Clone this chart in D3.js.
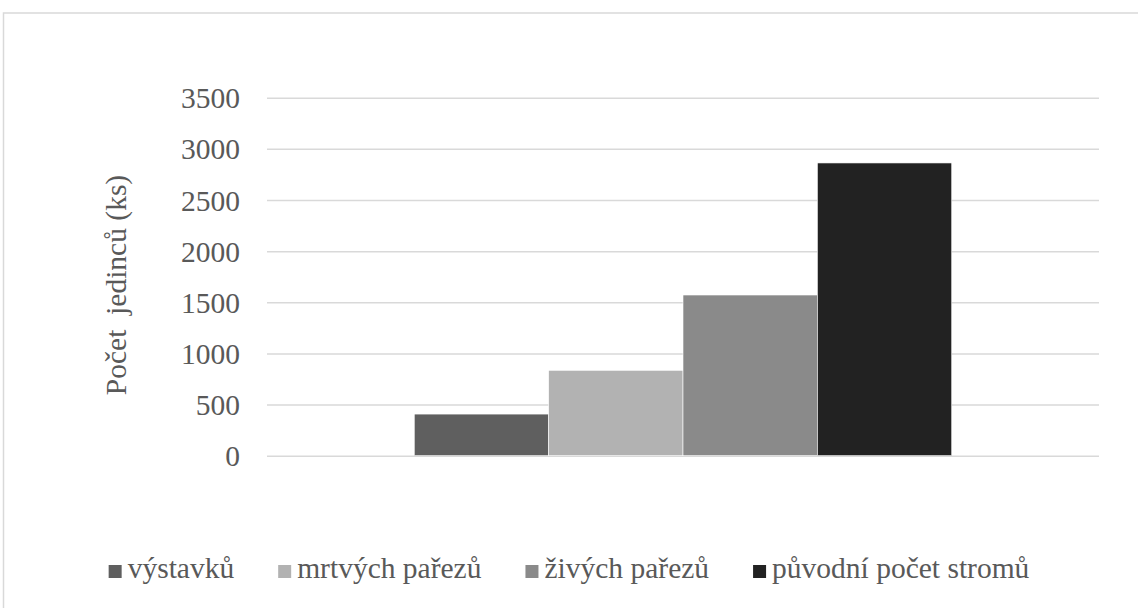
<!DOCTYPE html>
<html>
<head>
<meta charset="utf-8">
<script src="https://cdn.jsdelivr.net/npm/d3@7"></script>
</head>
<body style="margin:0">
<script>
// chart data
const categories = [''];
const seriesNames = ['výstavků', 'mrtvých pařezů', 'živých pařezů', 'původní počet stromů'];
const seriesValues = [407, 835, 1571, 2862];
const seriesColors = ['#5f5f5f', '#b2b2b2', '#8a8a8a', '#222222'];
const yTicks = [0, 500, 1000, 1500, 2000, 2500, 3000, 3500];
const yTitle = 'Počet  jedinců (ks)';

const width = 1138;
const height = 608;
const fontFamily = 'Liberation Serif';
const textColor = '#595959';

const svg = d3.select('body')
    .append('svg')
    .attr('width', width)
    .attr('height', height)
    .attr('font-family', fontFamily);

// outer chart border (only top and left visible in the crop)
svg.append('rect')
    .attr('x', 3.5)
    .attr('y', 13)
    .attr('width', width + 10)
    .attr('height', height + 10)
    .style('fill', 'none')
    .style('stroke', '#d9d9d9')
    .style('stroke-width', 1.5);

// plot area
const plot = { left: 267, right: 1099, top: 97.7, bottom: 455.7 };

const y = d3.scaleLinear()
    .domain([0, 3500])
    .range([plot.bottom, plot.top]);

const x = d3.scaleBand()
    .domain(categories)
    .range([plot.left, plot.right])
    .paddingInner(0)
    .paddingOuter(0.274);

const xSeries = d3.scaleBand()
    .domain(seriesNames)
    .range([0, x.bandwidth()])
    .padding(0);

// gridlines + tick labels through a d3 axis
const yAxis = svg.append('g')
    .attr('transform', `translate(${plot.left},0)`)
    .call(d3.axisLeft(y)
        .tickValues(yTicks)
        .tickFormat(d3.format('d'))
        .tickSize(-(plot.right - plot.left))
        .tickPadding(27))
    .attr('font-family', fontFamily)
    .attr('font-size', 29.5);

yAxis.select('.domain').remove();
yAxis.selectAll('.tick line')
    .style('stroke', '#d9d9d9')
    .style('stroke-width', 1.5);
yAxis.selectAll('.tick text')
    .attr('fill', textColor)
    .attr('dy', '0.34em');

// bars
const group = svg.append('g')
    .selectAll('g')
    .data(categories)
    .enter()
    .append('g')
    .attr('transform', d => `translate(${x(d)},0)`);

group.selectAll('rect')
    .data(seriesNames.map((name, i) => ({ name: name, value: seriesValues[i], color: seriesColors[i] })))
    .enter()
    .append('rect')
    .attr('x', d => xSeries(d.name))
    .attr('width', xSeries.bandwidth())
    .attr('y', d => y(d.value))
    .attr('height', d => y(0) - y(d.value))
    .style('fill', d => d.color)
    .style('stroke', '#ffffff')
    .style('stroke-width', 0.6);

// y axis title
svg.append('text')
    .attr('transform', 'translate(126,285) rotate(-90)')
    .attr('text-anchor', 'middle')
    .attr('font-size', 29.5)
    .attr('fill', textColor)
    .style('white-space', 'pre')
    .text(yTitle);

// legend: widths measured with a canvas, then centred
const ctx = document.createElement('canvas').getContext('2d');
ctx.font = '29.5px "Liberation Serif"';

const legendGap = 44;
const swatch = 13;
const textOffset = 19;
const offsets = [];
let cursor = 0;
seriesNames.forEach(name => {
    offsets.push(cursor);
    cursor += textOffset + ctx.measureText(name).width + legendGap;
});
const legendWidth = cursor - legendGap;

const legend = svg.append('g')
    .attr('transform', `translate(${(width - legendWidth) / 2},578)`);

const items = legend.selectAll('g')
    .data(seriesNames)
    .enter()
    .append('g')
    .attr('transform', (d, i) => `translate(${offsets[i]},0)`);

items.append('rect')
    .attr('width', swatch)
    .attr('height', swatch)
    .attr('y', -swatch)
    .style('fill', (d, i) => seriesColors[i]);

items.append('text')
    .attr('x', textOffset)
    .attr('font-size', 29.5)
    .attr('fill', textColor)
    .text(d => d);
</script>
</body>
</html>
